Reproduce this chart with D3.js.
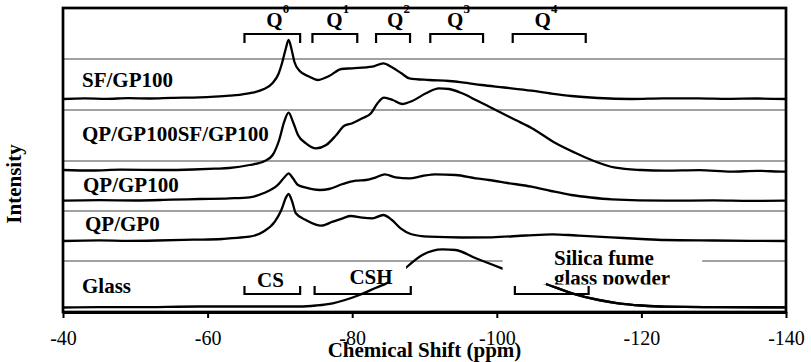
<!DOCTYPE html>
<html>
<head>
<meta charset="utf-8">
<script src="https://cdn.jsdelivr.net/npm/d3@7"></script>
<style>
  body { margin: 0; background: #fff; }
  svg { display: block; }
  text { font-family: "Liberation Serif", "Times New Roman", serif; fill: #000; }
</style>
</head>
<body>
<svg id="chart" width="811" height="362"></svg>
<script>
// 29Si NMR spectra, [chemical shift (ppm), intensity (a.u.)] above each trace's own baseline
const sfGp100 = [[-40,0],[-43,0.6],[-46,0.2],[-49,0.8],[-52,0.5],[-55,1.2],[-58.9,1.7],[-61,2.4],[-63,3.3],[-64.4,4.2],[-66.2,6.3],[-67.8,10],[-69,16],[-69.8,25],[-70.3,36],[-70.8,50],[-71.2,59],[-71.6,50],[-72.0,37.3],[-72.7,28.3],[-74.1,22.3],[-75.2,19],[-76.8,23],[-78.5,30],[-80.0,30.7],[-82.8,32.3],[-84.3,35.7],[-85.5,31.7],[-86.8,25.7],[-87.9,20.7],[-90.6,19],[-93.4,18],[-95.2,16.7],[-97.9,14],[-101,11.5],[-104.8,8.3],[-107.5,5.5],[-110.3,3],[-114,1],[-118.6,0],[-123,0.6],[-127.9,0.7],[-132,0.2],[-136,0.5],[-140,0]];
const qpGp100SfGp100 = [[-40,1],[-44,0.5],[-48,1.3],[-53.8,1],[-58,1.5],[-61,2.3],[-63,3],[-65.8,6],[-67.9,10],[-69,16],[-69.9,31],[-70.6,49.3],[-71.2,58.3],[-71.8,49.3],[-72.5,36],[-73.6,27.7],[-75.0,22.7],[-76.4,26],[-77.8,36],[-78.9,45.3],[-80.0,47.7],[-81.4,52.7],[-82.6,57.7],[-83.5,67.7],[-84.4,73.3],[-85.6,71],[-86.9,67],[-88.3,70],[-90.2,77.7],[-92.0,82.7],[-93.4,82],[-95.2,77.7],[-97.1,71],[-99.3,63],[-102.6,51],[-104.8,43],[-108.1,28],[-110.9,18],[-113.1,11],[-116.4,3.3],[-120,1],[-123.3,0.3],[-128,0.8],[-132.4,-0.7],[-136,0.2],[-139.8,-0.7],[-140,-0.7]];
const qpGp100 = [[-40,0.3],[-45,0.8],[-50,0.5],[-55,1.3],[-58.9,2],[-63,2.7],[-65.8,3.7],[-67.7,7.7],[-69.6,15.3],[-70.7,24.3],[-71.2,27.7],[-71.8,22.7],[-72.5,16],[-73.6,13.3],[-75.5,11],[-76.8,12],[-78.7,17],[-80.5,20.3],[-81.9,21],[-83.3,23.7],[-84.5,26.7],[-86.0,23.7],[-87.9,22.7],[-89.7,25],[-91.5,26.7],[-94.3,26],[-97.1,22.7],[-98.9,21],[-101.5,18],[-104.8,14.3],[-107.5,10],[-110.3,6],[-113,3.5],[-115.9,1.7],[-123.3,0.3],[-130,0.6],[-135,0.1],[-140,0.3]];
const qpGp0 = [[-40,0],[-45,0.6],[-49,0.2],[-53,0.5],[-58,1.3],[-62,2],[-63,2.7],[-65.8,4.3],[-67.7,9.3],[-69.3,19.3],[-70.2,31],[-70.9,44.3],[-71.2,47],[-71.7,39.3],[-72.2,27.7],[-73.6,21],[-75.7,15.3],[-77.3,19.3],[-78.7,22.7],[-79.8,25],[-81.4,23.3],[-82.8,22.7],[-84.3,26],[-85.5,21],[-86.7,12.7],[-88.1,7],[-90.6,4.3],[-95.2,3.5],[-99.3,3.7],[-104,5.5],[-107.7,6.7],[-111,5.5],[-115.8,3.7],[-120,2],[-123.3,1],[-130,0.5],[-135,0.2],[-140,0]];
const glass = [[-40,0],[-45,0.4],[-50,0.3],[-58.9,1],[-65,1],[-72.7,1],[-75,2],[-77.3,4.2],[-79,7.5],[-81.0,12.5],[-83.3,19.8],[-84.9,24.8],[-86.3,32],[-87.6,40.8],[-89.7,52.5],[-92.5,58.2],[-94.3,57.5],[-97.1,49.2],[-100.7,39.2],[-107.2,22.5],[-110.4,14.2],[-114.1,7.5],[-116.8,4.2],[-120,2],[-123.3,0.8],[-130,0.4],[-140,0.2]];

// stacking: trace names, their spectra and vertical offsets (a.u.)
const traceNames = ["SF/GP100", "QP/GP100SF/GP100", "QP/GP100", "QP/GP0", "Glass"];
const traceData = [sfGp100, qpGp100SfGp100, qpGp100, qpGp0, glass];
const traceOffsets = [213, 141, 111, 71, 4.5];
const separatorLevels = [253, 202, 151, 101, 51];

// Qn structural-unit ranges (ppm) and label centres
const qLabels = ["0", "1", "2", "3", "4"];
const qRanges = [[-65.1, -72.8], [-74.5, -80.7], [-83.3, -88.0], [-90.8, -98.1], [-102.2, -112.3]];
const qLabelAt = [-69.7, -78.0, -86.4, -94.7, -106.8];

// phase ranges marked under the glass spectrum
const phaseLabels = ["CS", "CSH"];
const phaseRanges = [[-65.1, -72.8], [-74.8, -88.1]];
const phaseLabelAt = [-68.7, -82.6];
const silicaRange = [-102.5, -112.7];

const xTicks = [-40, -60, -80, -100, -120, -140];

const svg = d3.select("#chart");
const margin = { left: 63, right: 25, top: 8, bottom: 50 };
const W = 811, H = 362;
const x = d3.scaleLinear().domain([-40, -140]).range([margin.left, W - margin.right]);
const y = d3.scaleLinear().domain([0, 304]).range([H - margin.bottom, margin.top]);

const defs = svg.append("defs");
defs.append("clipPath").attr("id", "plotClip")
  .append("rect").attr("x", x(-40)).attr("y", y(304)).attr("width", x(-140) - x(-40)).attr("height", y(0) - y(304));

const plot = svg.append("g").attr("clip-path", "url(#plotClip)");

// separator lines between stacked spectra
plot.selectAll("line.sep").data(separatorLevels).join("line")
  .attr("class", "sep")
  .attr("x1", x(-40)).attr("x2", x(-140))
  .attr("y1", d => y(d)).attr("y2", d => y(d))
  .attr("stroke", "#444").attr("stroke-width", 1.2);

const line = (offset) => d3.line()
  .x(d => x(d[0]))
  .y(d => y(d[1] + offset))
  .curve(d3.curveMonotoneX);

plot.selectAll("path.trace").data(traceData).join("path")
  .attr("class", "trace")
  .attr("d", (d, i) => line(traceOffsets[i])(d))
  .attr("fill", "none").attr("stroke", "#000").attr("stroke-width", 2.3)
  .attr("stroke-linejoin", "round");

// white label backgrounds over the glass spectrum
plot.append("rect")
  .attr("x", x(-85.0)).attr("y", 263)
  .attr("width", x(-87.45) - x(-85.0)).attr("height", 21)
  .attr("fill", "#fff");
plot.append("rect")
  .attr("x", x(-100.8)).attr("y", 246)
  .attr("width", x(-128.4) - x(-100.8)).attr("height", 38.5)
  .attr("fill", "#fff");

defs.append("clipPath").attr("id", "silicaClip")
  .append("rect").attr("x", 0).attr("y", 0).attr("width", W).attr("height", 284.5);
const silica = svg.append("g").attr("clip-path", "url(#silicaClip)")
  .style("font-size", "21px").style("font-weight", "bold");
silica.append("text").attr("x", 554).attr("y", 265).text("Silica fume");
silica.append("text").attr("x", 554).attr("y", 285).text("glass powder");

// glass spectrum tail drawn over its label box
defs.append("clipPath").attr("id", "tailClip")
  .append("rect").attr("x", x(-106.8)).attr("y", 0).attr("width", x(-140) - x(-106.8)).attr("height", y(0));
svg.append("path")
  .attr("clip-path", "url(#tailClip)")
  .attr("d", line(traceOffsets[4])(glass))
  .attr("fill", "none").attr("stroke", "#000").attr("stroke-width", 2.3);

// trace names
const nameY = [87, 141, 192, 231, 293];
const nameX = [82, 82, 83, 85, 82];
svg.selectAll("text.name").data(traceNames).join("text")
  .attr("class", "name")
  .attr("x", (d, i) => nameX[i]).attr("y", (d, i) => nameY[i])
  .style("font-size", "21px").style("font-weight", "bold")
  .text(d => d);

// Qn brackets (open downward) with labels
const bracketStroke = g => g.attr("fill", "none").attr("stroke", "#000").attr("stroke-width", 2.2);
svg.selectAll("path.qbr").data(qRanges).join("path")
  .attr("class", "qbr")
  .attr("d", d => `M${x(d[0])},43V34H${x(d[1])}V43`)
  .call(bracketStroke);
const qt = svg.selectAll("text.q").data(qLabels).join("text")
  .attr("class", "q")
  .attr("x", (d, i) => x(qLabelAt[i])).attr("y", 27)
  .attr("text-anchor", "middle")
  .style("font-size", "21px").style("font-weight", "bold");
qt.append("tspan").text("Q");
qt.append("tspan").attr("dy", -14).style("font-size", "13px").text(d => d);

// phase brackets (open upward) with labels
svg.selectAll("path.pbr").data(phaseRanges.concat([silicaRange])).join("path")
  .attr("class", "pbr")
  .attr("d", d => `M${x(d[0])},286V294H${x(d[1])}V286`)
  .call(bracketStroke);
svg.selectAll("text.phase").data(phaseLabels).join("text")
  .attr("class", "phase")
  .attr("x", (d, i) => x(phaseLabelAt[i])).attr("y", (d, i) => i === 0 ? 287 : 284)
  .attr("text-anchor", "middle")
  .style("font-size", "21px").style("font-weight", "bold")
  .text(d => d);

// frame
svg.append("rect")
  .attr("x", x(-40)).attr("y", y(304))
  .attr("width", x(-140) - x(-40)).attr("height", y(0) - y(304))
  .attr("fill", "none").attr("stroke", "#000").attr("stroke-width", 2.7);

// x axis
const axis = svg.append("g")
  .attr("transform", `translate(0,${y(0)})`)
  .call(d3.axisBottom(x).tickValues(xTicks).tickFormat(d => String(d))
    .tickSize(6).tickSizeOuter(0).tickPadding(13));
axis.select(".domain").attr("stroke-width", 3.2);
axis.selectAll(".tick line").attr("stroke-width", 2);
axis.selectAll(".tick text")
  .style("font-family", "'Liberation Serif', 'Times New Roman', serif")
  .style("font-size", "20px");

svg.append("text")
  .attr("x", (x(-40) + x(-140)) / 2).attr("y", 357)
  .attr("text-anchor", "middle")
  .style("font-size", "21px").style("font-weight", "bold")
  .text("Chemical Shift (ppm)");

svg.append("text")
  .attr("transform", "translate(21,184) rotate(-90)")
  .attr("text-anchor", "middle")
  .style("font-size", "21px").style("font-weight", "bold")
  .text("Intensity");
</script>
</body>
</html>
